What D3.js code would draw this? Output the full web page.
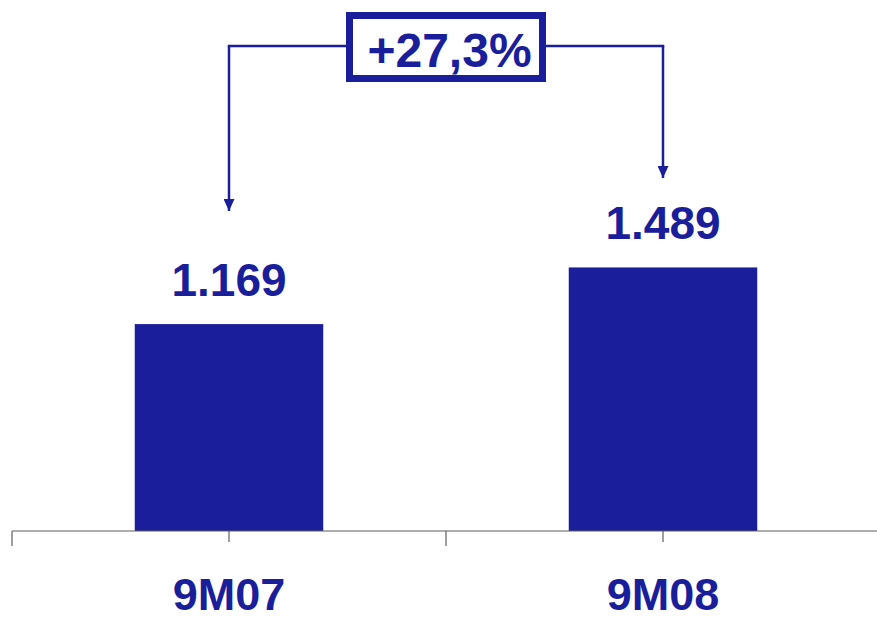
<!DOCTYPE html>
<html>
<head>
<meta charset="utf-8">
<script src="https://cdn.jsdelivr.net/npm/d3@7"></script>
<style>
  html, body { margin: 0; padding: 0; background: #fff; }
  svg { display: block; }
  text { font-family: "Liberation Sans", Arial, sans-serif; font-weight: bold; }
</style>
</head>
<body>
<svg id="chart" width="877" height="620"></svg>
<script>
const categories = ["9M07", "9M08"];
const values = [1169, 1489];
const valueLabels = ["1.169", "1.489"];
const growthLabel = "+27,3%";

const W = 877, H = 620;
const color = "#1a1e9b";
const axisColor = "#5e5e5e";

const svg = d3.select("#chart");

const x = d3.scaleBand().domain(categories).range([12, 880]).paddingInner(0.5657).paddingOuter(0.28285);
const y = d3.scaleLinear().domain([0, 3000]).range([531, 0]);
const baseY = y(0);

// bars
svg.selectAll("rect.bar").data(values).join("rect")
  .attr("class", "bar")
  .attr("x", (d, i) => x(categories[i]))
  .attr("y", d => y(d))
  .attr("width", x.bandwidth())
  .attr("height", d => baseY - y(d))
  .attr("fill", color);

// axis line
svg.append("line")
  .attr("x1", 12).attr("x2", W).attr("y1", baseY).attr("y2", baseY)
  .attr("stroke", axisColor).attr("stroke-width", 1.2);

// boundary ticks
const step = x.step();
const bounds = d3.range(categories.length + 1).map(i => x.range()[0] + i * step);
svg.selectAll("line.btick").data(bounds.filter(b => b < W)).join("line")
  .attr("class", "btick")
  .attr("x1", d => d).attr("x2", d => d)
  .attr("y1", baseY).attr("y2", baseY + 15)
  .attr("stroke", axisColor).attr("stroke-width", 1.2);

// center ticks
svg.selectAll("line.ctick").data(categories).join("line")
  .attr("class", "ctick")
  .attr("x1", d => x(d) + x.bandwidth() / 2).attr("x2", d => x(d) + x.bandwidth() / 2)
  .attr("y1", baseY).attr("y2", baseY + 11)
  .attr("stroke", axisColor).attr("stroke-width", 1.2);

// category labels
svg.selectAll("text.cat").data(categories).join("text")
  .attr("class", "cat")
  .attr("x", d => x(d) + x.bandwidth() / 2)
  .attr("y", 610)
  .attr("text-anchor", "middle")
  .attr("font-size", 45)
  .attr("fill", color)
  .text(d => d);

// value labels
svg.selectAll("text.val").data(values).join("text")
  .attr("class", "val")
  .attr("x", (d, i) => x(categories[i]) + x.bandwidth() / 2)
  .attr("y", d => y(d) - 28)
  .attr("text-anchor", "middle")
  .attr("font-size", 46)
  .attr("fill", color)
  .text((d, i) => valueLabels[i]);

// growth annotation
const cx0 = x(categories[0]) + x.bandwidth() / 2;
const cx1 = x(categories[1]) + x.bandwidth() / 2;
const lineY = 46;
const tips = [211, 178];

const defs = svg.append("defs");
defs.append("marker")
  .attr("id", "arr")
  .attr("viewBox", "0 0 11 12")
  .attr("refX", 5.5).attr("refY", 12)
  .attr("markerWidth", 11).attr("markerHeight", 12)
  .attr("markerUnits", "userSpaceOnUse")
  .attr("orient", "0")
  .append("path").attr("d", "M0,0 L11,0 L5.5,12 Z").attr("fill", color);

svg.append("path")
  .attr("d", `M${cx0},${lineY} L${cx0},${tips[0]}`)
  .attr("stroke", color).attr("stroke-width", 2.5).attr("fill", "none")
  .attr("marker-end", "url(#arr)");
svg.append("path")
  .attr("d", `M${cx1},${lineY} L${cx1},${tips[1]}`)
  .attr("stroke", color).attr("stroke-width", 2.5).attr("fill", "none")
  .attr("marker-end", "url(#arr)");
svg.append("line")
  .attr("x1", cx0 - 1.25).attr("x2", cx1 + 1.25).attr("y1", lineY).attr("y2", lineY)
  .attr("stroke", color).attr("stroke-width", 2.5);

const boxCx = bounds[1];
svg.append("rect")
  .attr("x", boxCx - 96.5).attr("y", 15.5)
  .attr("width", 193).attr("height", 63)
  .attr("fill", "#fff").attr("stroke", color).attr("stroke-width", 7);

svg.append("text")
  .attr("x", boxCx + 3.5).attr("y", 67)
  .attr("text-anchor", "middle")
  .attr("font-size", 48)
  .attr("fill", color)
  .text(growthLabel);
</script>
</body>
</html>
